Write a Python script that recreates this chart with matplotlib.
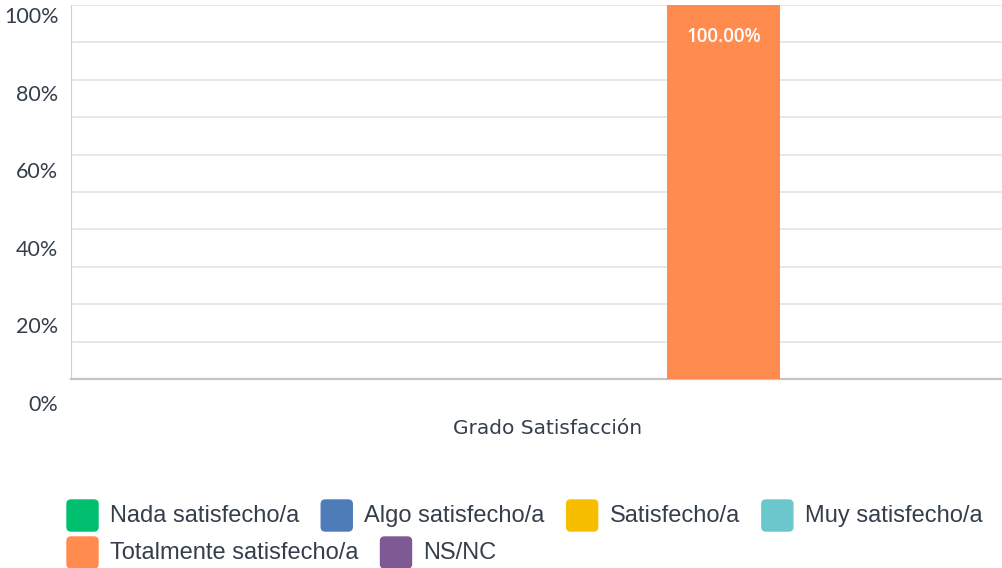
import numpy as np
import matplotlib.pyplot as plt
from matplotlib.patches import FancyBboxPatch
from matplotlib.transforms import ScaledTranslation

categorias = ["Grado Satisfacción"]
series = ["Nada satisfecho/a", "Algo satisfecho/a", "Satisfecho/a",
          "Muy satisfecho/a", "Totalmente satisfecho/a", "NS/NC"]
valores = [0, 0, 0, 0, 100, 0]
colores = ["#00bf6f", "#4e7cb9", "#f7be00", "#6ac8cc", "#ff8c4e", "#7d5a94"]
yticks = [0, 20, 40, 60, 80, 100]

W, H = 1003, 568
fig = plt.figure(figsize=(W / 100, H / 100), dpi=100)
ax = fig.add_axes([71 / W, 1 - 379 / H, 932 / W, 374 / H])

ancho = 0.12
x = np.arange(len(categorias))
for i, (s, v, c) in enumerate(zip(series, valores, colores)):
    pos = x + (i - 2.5) * ancho
    bars = ax.bar(pos, [v], width=ancho, color=c, zorder=3, label=s)
    if v > 0:
        ax.bar_label(bars, labels=[f"{v:.2f}%"], label_type="edge",
                     padding=-30, color="white", fontsize=13.5,
                     fontfamily="Open Sans", fontweight="semibold")

ax.set_xlim(-0.513, 0.477)
ax.set_ylim(0, 100)
ax.set_xticks(x, categorias, fontsize=14.5, color="#343f4b", fontfamily="DejaVu Sans")
ax.tick_params(axis="x", length=0, pad=29)
for lab in ax.get_xticklabels():
    lab.set_transform(lab.get_transform() + ScaledTranslation(-0.06, 0, fig.dpi_scale_trans))

ax.set_yticks(yticks, [f"{t}%" for t in yticks])
ax.set_yticks(np.arange(10, 100, 20), minor=True)
ax.tick_params(axis="y", which="both", length=0, pad=9, labelsize=15.5,
               labelcolor="#343f4b")
# las etiquetas del eje y van algo desplazadas hacia abajo, como en la original
for t, lab in zip(yticks, ax.get_yticklabels()):
    lab.set_fontfamily("Lato")
    off = (10 + 14 * (1 - t / 100)) / 100
    lab.set_transform(lab.get_transform() + ScaledTranslation(0, -off, fig.dpi_scale_trans))
ax.grid(axis="y", which="both", color="#e8e8e8", lw=1.4, zorder=0)

for s in ["top", "right"]:
    ax.spines[s].set_visible(False)
ax.spines["left"].set_color("#d0d0d0")
ax.spines["bottom"].set_color("#c4c4c4")
ax.spines["bottom"].set_linewidth(1.6)

# leyenda en flujo, como la original
renderer = fig.canvas.get_renderer()
px, py = 67, 516
for s, c in zip(series, colores):
    t = fig.text(0, 0, s, fontsize=17, color="#343f4b",
                 fontfamily="Liberation Sans", va="center")
    tw = t.get_window_extent(renderer).width
    if px + 44 + tw > W + 5:
        px, py = 67, py + 37
    t.set_position(((px + 43) / W, 1 - py / H))
    fig.patches.append(FancyBboxPatch((px / W, 1 - (py + 15) / H), 31 / W, 31 / H,
                                      boxstyle="round,pad=0,rounding_size=0.004",
                                      transform=fig.transFigure, color=c,
                                      mutation_aspect=W / H))
    px += 43 + tw + 22

fig.savefig("out.png", dpi=100)
